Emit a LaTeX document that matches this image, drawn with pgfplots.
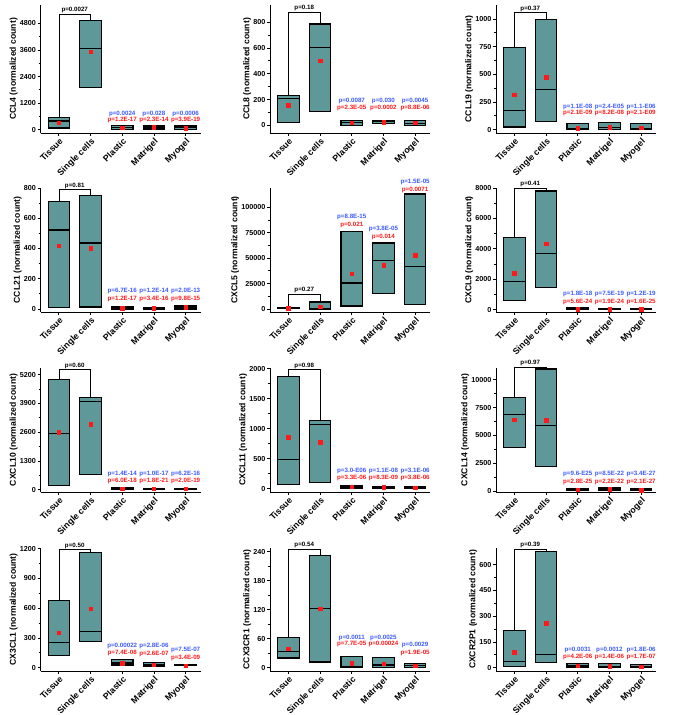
\documentclass[border=0pt]{standalone}
\usepackage{pgfplots}
\pgfplotsset{compat=1.18}
\usepackage{fontspec}
\setmainfont{Liberation Sans}
\definecolor{boxfill}{RGB}{95,152,152}
\definecolor{pblue}{RGB}{60,90,255}
\definecolor{pred}{RGB}{255,25,25}
\pgfplotsset{
 panel/.style={
  scale only axis, width=160pt,
  xmin=0.42, xmax=5.47,
  axis lines*=left, axis line style={line width=0.9pt,-},
  xtick={1,2,3,4,5}, xticklabels={Tissue,Single cells,Plastic,Matrigel,Myogel},
  xticklabel style={rotate=45, anchor=north east, font=\fontsize{8.8}{9}\selectfont\bfseries, inner sep=1pt},
  yticklabel style={font=\fontsize{7.2}{8}\selectfont\bfseries, inner sep=1.5pt},
  /pgf/number format/assume math mode=true,
  /pgf/number format/fixed,
  /pgf/number format/1000 sep={},
  scaled y ticks=false,
  tick align=outside, major tick length=3pt, minor tick length=1.8pt,
  tick style={line width=0.8pt, black},
  minor y tick num=1,
  ylabel style={font=\fontsize{8.6}{9}\selectfont\bfseries},
  ylabel shift=-3pt,
  clip=false,
 },
}
\newcommand{\bx}[5]{%
 \pgfmathsetmacro{\xa}{#1-0.34}%
 \pgfmathsetmacro{\xb}{#1+0.34}%
 \addplot[draw=black, fill=boxfill, line width=1.1pt, line join=miter, mark=none]
   coordinates {(\xa,#2)(\xb,#2)(\xb,#4)(\xa,#4)(\xa,#2)} -- cycle;
 \addplot[black, line width=1.1pt, mark=none] coordinates {(\xa,#3)(\xb,#3)};
 \addplot[only marks, mark=square*, mark size=1.7pt, color=pred] coordinates {(#1,#5)};
}
\newcommand{\pv}[5]{%
 \node[text=pblue, font=\fontsize{6.2}{7}\selectfont\bfseries, inner sep=0pt] at (axis cs:#1,#2) {#4};
 \node[text=pred, font=\fontsize{6.2}{7}\selectfont\bfseries, inner sep=0pt] at (axis cs:#1,#3) {#5};
}
\newcommand{\br}[4]{%
 \addplot[black, line width=0.7pt, mark=none] coordinates {(1,#1)(1,#2)(2,#2)(2,#3)};
 \node[font=\fontsize{6.2}{7}\selectfont\bfseries, anchor=south, inner sep=1pt] at (axis cs:1.5,#2) {#4};
}
\begin{document}
\begin{tikzpicture}
\useasboundingbox (0,0) rectangle (685pt,-715pt);
% ---------- Row 1 ----------
\begin{axis}[panel, at={(40.5pt,-5pt)}, anchor=north west, height=128pt,
  ymin=-150, ymax=5630, ytick={0,1200,2400,3600,4800}, ylabel={CCL4 (normalized count)}]
\bx{1}{75}{392}{543}{317}
\bx{2}{1902}{3652}{4950}{3517}
\bx{3}{15}{90}{181}{90}
\bx{4}{30}{106}{166}{106}
\bx{5}{0}{90}{166}{75}
\br{543}{5221}{4950}{p=0.0027}
\pv{3}{724}{438}{p=0.0024}{p=1.2E-17}
\pv{4}{724}{438}{p=0.028}{p=2.3E-14}
\pv{5}{724}{438}{p=0.0006}{p=3.9E-19}
\end{axis}
\begin{axis}[panel, at={(270pt,-5pt)}, anchor=north west, height=128pt,
  ymin=-58, ymax=932, ytick={0,200,400,600,800}, ylabel={CCL8 (normalized count)}]
\bx{1}{26}{212}{230}{158}
\bx{2}{110}{606}{785}{501}
\bx{3}{3}{20}{38}{23}
\bx{4}{13}{28}{38}{26}
\bx{5}{0}{15}{38}{20}
\br{230}{877}{785}{p=0.18}
\pv{3}{187}{133}{p=0.0087}{p=2.3E-05}
\pv{4}{187}{133}{p=0.030}{p=0.0002}
\pv{5}{187}{133}{p=0.0045}{p=8.8E-06}
\end{axis}
\begin{axis}[panel, at={(496pt,-5pt)}, anchor=north west, height=128pt,
  ymin=-30, ymax=1126, ytick={0,250,500,750,1000}, ylabel={CCL19 (normalized count)}]
\bx{1}{24}{174}{742}{315}
\bx{2}{75}{360}{991}{474}
\bx{3}{0}{12}{54}{15}
\bx{4}{0}{21}{63}{24}
\bx{5}{0}{12}{57}{18}
\br{742}{1057}{991}{p=0.37}
\pv{3}{204}{147}{p=1.1E-08}{p=2.1E-09}
\pv{4}{204}{147}{p=2.4-E05}{p=8.2E-08}
\pv{5}{204}{147}{p=1.1-E06}{p=2.1-E09}
\end{axis}
% ---------- Row 2 ----------
\begin{axis}[panel, at={(40.5pt,-188pt)}, anchor=north west, height=124pt,
  ymin=-20, ymax=800, ytick={0,200,400,600,800}, ylabel={CCL21 (normalized count)}]
\bx{1}{11}{522}{712}{417}
\bx{2}{13}{436}{752}{401}
\bx{3}{0}{7}{13}{4}
\bx{4}{0}{7}{11}{4}
\bx{5}{0}{11}{20}{11}
\br{712}{789}{752}{p=0.81}
\pv{3}{117}{68}{p=6.7E-16}{p=1.2E-17}
\pv{4}{117}{68}{p=1.2E-14}{p=3.4E-16}
\pv{5}{117}{68}{p=2.0E-13}{p=9.8E-15}
\end{axis}
\begin{axis}[panel, at={(270pt,-188pt)}, anchor=north west, height=124pt,
  ymin=-2950, ymax=119000, ytick={0,25000,50000,75000,100000}, ylabel={CXCL5 (normalized count)}]
\bx{1}{100}{400}{1200}{700}
\bx{2}{0}{650}{6900}{2300}
\bx{3}{2950}{25600}{76400}{34760}
\bx{4}{15400}{47500}{64900}{42950}
\bx{5}{4260}{41640}{113100}{53100}
\br{1200}{14750}{6900}{p=0.27}
\pv{3}{90170}{82960}{p=8.8E-15}{p=0.021}
\pv{4}{78700}{70830}{p=3.8E-05}{p=0.014}
\pv{5}{124930}{117400}{p=1.5E-05}{p=0.0071}
\end{axis}
\begin{axis}[panel, at={(496pt,-188pt)}, anchor=north west, height=124pt,
  ymin=-153, ymax=8000, ytick={0,2000,4000,6000,8000}, ylabel={CXCL9 (normalized count)}]
\bx{1}{612}{1836}{4744}{2405}
\bx{2}{1486}{3716}{7804}{4328}
\bx{3}{0}{22}{110}{44}
\bx{4}{0}{22}{100}{40}
\bx{5}{0}{22}{100}{40}
\br{4744}{8000}{7804}{p=0.41}
\pv{3}{1049}{503}{p=1.8E-18}{p=5.6E-24}
\pv{4}{1049}{503}{p=7.5E-19}{p=1.9E-24}
\pv{5}{1049}{503}{p=1.2E-19}{p=1.6E-25}
\end{axis}
% ---------- Row 3 ----------
\begin{axis}[panel, at={(40.5pt,-368pt)}, anchor=north west, height=124pt,
  ymin=-106, ymax=5503, ytick={0,1300,2600,3900,5200}, ylabel={CXCL10 (normalized count)}]
\bx{1}{197}{2547}{5003}{2592}
\bx{2}{682}{3987}{4169}{2956}
\bx{3}{0}{45}{91}{45}
\bx{4}{0}{30}{60}{30}
\bx{5}{0}{30}{60}{30}
\br{5003}{5427}{4169}{p=0.60}
\pv{3}{728}{394}{p=1.4E-14}{p=6.0E-18}
\pv{4}{728}{394}{p=1.0E-17}{p=1.8E-21}
\pv{5}{728}{394}{p=6.2E-16}{p=2.0E-19}
\end{axis}
\begin{axis}[panel, at={(270pt,-368pt)}, anchor=north west, height=124pt,
  ymin=-56, ymax=2011, ytick={0,500,1000,1500,2000}, ylabel={CXCL11 (normalized count)}]
\bx{1}{73}{480}{1866}{860}
\bx{2}{95}{1073}{1134}{771}
\bx{3}{0}{28}{56}{34}
\bx{4}{0}{20}{40}{22}
\bx{5}{0}{20}{30}{20}
\br{1866}{1983}{1134}{p=0.98}
\pv{3}{290}{179}{p=3.0-E06}{p=3.3E-06}
\pv{4}{290}{179}{p=1.1E-08}{p=8.3E-09}
\pv{5}{290}{179}{p=3.1E-06}{p=3.8E-06}
\end{axis}
\begin{axis}[panel, at={(496pt,-368pt)}, anchor=north west, height=124pt,
  ymin=-90, ymax=11054, ytick={0,2500,5000,7500,10000}, ylabel={CXCL14 (normalized count)}]
\bx{1}{3886}{6837}{8403}{6385}
\bx{2}{2229}{5873}{10964}{6355}
\bx{3}{30}{120}{211}{120}
\bx{4}{60}{180}{271}{150}
\bx{5}{30}{90}{180}{90}
\br{8403}{11144}{10964}{p=0.97}
\pv{3}{1506}{783}{p=9.6-E25}{p=2.8E-25}
\pv{4}{1506}{783}{p=8.5E-22}{p=2.2E-22}
\pv{5}{1506}{783}{p=3.4E-27}{p=2.1E-27}
\end{axis}
% ---------- Row 4 ----------
\begin{axis}[panel, at={(40.5pt,-548pt)}, anchor=north west, height=123pt,
  ymin=-33.5, ymax=1207, ytick={0,300,600,900,1200}, ylabel={CX3CL1 (normalized count)}]
\bx{1}{127}{251}{680}{352}
\bx{2}{268}{362}{1166}{597}
\bx{3}{27}{47}{87}{47}
\bx{4}{10}{27}{54}{33}
\bx{5}{20}{23}{30}{23}
\br{680}{1190}{1166}{p=0.50}
\pv{3}{218}{147}{p=0.00022}{p=7.4E-08}
\pv{4}{218}{134}{p=2.8E-06}{p=2.6E-07}
\pv{5}{174}{94}{p=7.5E-07}{p=3.4E-09}
\end{axis}
\begin{axis}[panel, at={(270pt,-548pt)}, anchor=north west, height=123pt,
  ymin=-6.9, ymax=248, ytick={0,60,120,180,240}, ylabel={CCX3CR1 (normalized count)}]
\bx{1}{20}{34}{63}{39.5}
\bx{2}{11.8}{123.5}{231.7}{122}
\bx{3}{0}{1.4}{23.6}{9}
\bx{4}{0.7}{5.5}{22}{8.3}
\bx{5}{0}{4}{9}{4}
\br{63}{245}{231.7}{p=0.54}
\pv{3}{62}{48.6}{p=0.0011}{p=7.7E-05}
\pv{4}{62}{48.6}{p=0.0025}{p=0.00024}
\pv{5}{47}{31}{p=0.0029}{p=1.9E-05}
\end{axis}
\begin{axis}[panel, at={(496pt,-548pt)}, anchor=north west, height=123pt,
  ymin=-19, ymax=697, ytick={0,150,300,450,600}, ylabel={CXCR2P1 (normalized count)}]
\bx{1}{9.7}{38.8}{217.5}{91}
\bx{2}{33}{75.7}{677.7}{260}
\bx{3}{2}{10}{27}{13.6}
\bx{4}{0}{8}{23}{9.7}
\bx{5}{0}{6}{17.5}{7.8}
\br{217.5}{691}{677.7}{p=0.39}
\pv{3}{105}{62}{p=0.0031}{p=4.2E-06}
\pv{4}{105}{62}{p=0.0012}{p=1.4E-06}
\pv{5}{105}{62}{p=1.8E-06}{p=1.7E-07}
\end{axis}
\end{tikzpicture}
\end{document}
